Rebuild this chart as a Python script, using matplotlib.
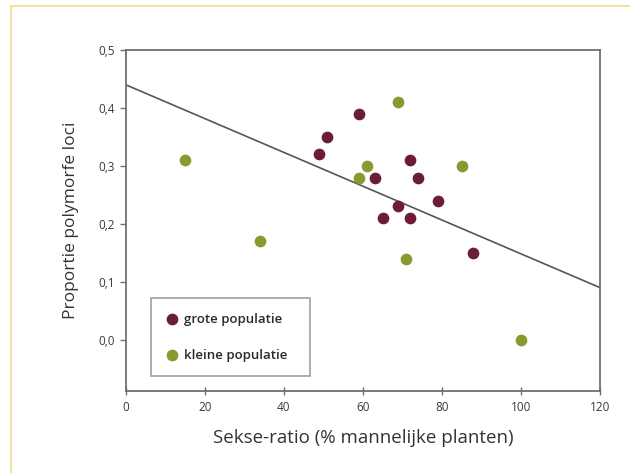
import numpy as np
import matplotlib.pyplot as plt
from matplotlib.patches import Rectangle

# grote populatie (large populations)
grote_x = [49, 51, 59, 63, 65, 69, 72, 72, 74, 79, 88]
grote_y = [0.32, 0.35, 0.39, 0.28, 0.21, 0.23, 0.31, 0.21, 0.28, 0.24, 0.15]

# kleine populatie (small populations)
kleine_x = [15, 34, 59, 61, 69, 71, 85, 100]
kleine_y = [0.31, 0.17, 0.28, 0.30, 0.41, 0.14, 0.30, 0.00]

# regression line end points
line_x = [0, 120]
line_y = [0.44, 0.09]

x_ticks = [0, 20, 40, 60, 80, 100, 120]
y_ticks = [0.0, 0.1, 0.2, 0.3, 0.4, 0.5]
y_ticklabels = ["0,0", "0,1", "0,2", "0,3", "0,4", "0,5"]

plt.rcParams["font.family"] = ["Open Sans", "DejaVu Sans"]

fig = plt.figure(figsize=(6.3, 4.73), dpi=100)
ax = fig.add_axes([0.2, 0.173, 0.752, 0.721])

# yellow page frame (left and top edges visible)
fig.patches.append(Rectangle((11 / 630, -0.1), 1.2, 1 - 6 / 473 + 0.1,
                             transform=fig.transFigure, fill=False,
                             edgecolor="#f0dc8c", linewidth=1.2))

ax.plot(line_x, line_y, color="#555555", linewidth=1.2, zorder=2)
ax.scatter(grote_x, grote_y, s=55, color="#6b1d33", label="grote populatie", zorder=3)
ax.scatter(kleine_x, kleine_y, s=55, color="#8a9a2e", label="kleine populatie", zorder=3)

ax.set_xlim(0, 120)
ax.set_ylim(-0.089, 0.5)
ax.set_xticks(x_ticks)
ax.set_yticks(y_ticks)
ax.set_yticklabels(y_ticklabels)

for sp in ax.spines.values():
    sp.set_color("#6f6f6f")
    sp.set_linewidth(1.3)

ax.tick_params(axis="x", direction="inout", length=6, width=1, colors="#6f6f6f",
               labelcolor="#3a3a3a", labelsize=8.5, pad=4)
ax.tick_params(axis="y", direction="out", length=4, width=1, colors="#6f6f6f",
               labelcolor="#3a3a3a", labelsize=8.5, pad=4)

ax.set_xlabel("Sekse-ratio (% mannelijke planten)", fontsize=13.5, color="#333333", labelpad=11)
ax.set_ylabel("Proportie polymorfe loci", fontsize=12.5, color="#333333", labelpad=14)

leg = ax.legend(loc="lower left", bbox_to_anchor=(0.053, 0.044, 0.335, 0.246),
                mode="expand", borderaxespad=0, fancybox=False, frameon=True,
                fontsize=9.5, handletextpad=0.4, labelspacing=1.75,
                borderpad=1.1, handlelength=1.0)
leg.get_frame().set_edgecolor("#888888")
leg.get_frame().set_linewidth(1.2)
for t in leg.get_texts():
    t.set_color("#2a2a2a")
    t.set_fontweight("semibold")

fig.savefig("out.png", dpi=100)
